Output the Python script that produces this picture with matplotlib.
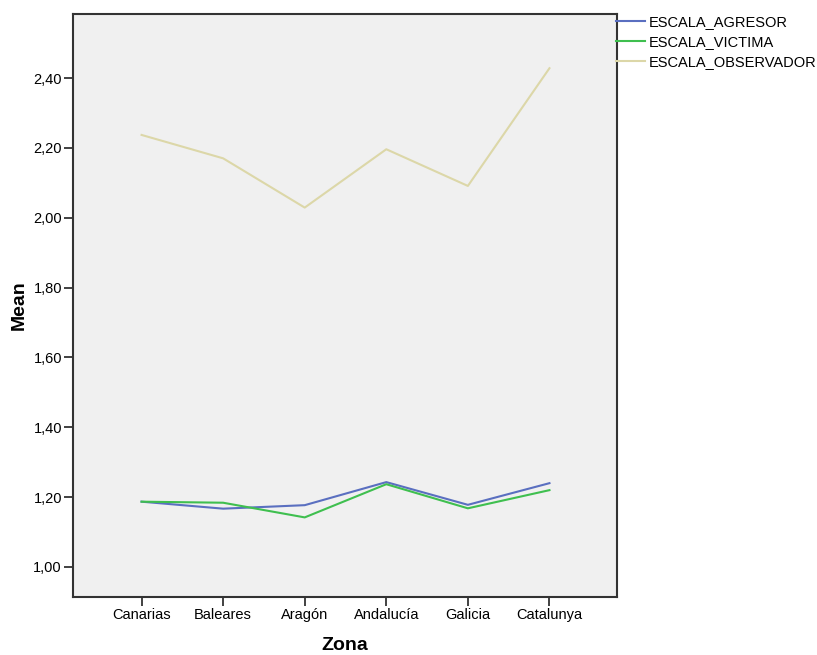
import matplotlib
matplotlib.use("Agg")
import matplotlib.pyplot as plt
from matplotlib.ticker import FuncFormatter

plt.rcParams['font.family'] = ['Liberation Sans', 'DejaVu Sans']

zonas = ["Canarias", "Baleares", "Aragón", "Andalucía", "Galicia", "Catalunya"]
agresor = [1.187, 1.167, 1.177, 1.243, 1.178, 1.240]
victima = [1.187, 1.184, 1.142, 1.237, 1.168, 1.220]
observador = [2.237, 2.170, 2.029, 2.196, 2.091, 2.428]
yticks = [1.0, 1.2, 1.4, 1.6, 1.8, 2.0, 2.2, 2.4]

fig = plt.figure(figsize=(8.17, 6.55), dpi=100)
ax = fig.add_axes([0.0894, 0.0885, 0.666, 0.890])
ax.set_facecolor('#f0f0f0')

x = range(len(zonas))
ax.plot(x, agresor, color='#5a6fc0', lw=1.5, label='ESCALA_AGRESOR')
ax.plot(x, victima, color='#3fbf4f', lw=1.5, label='ESCALA_VICTIMA')
ax.plot(x, observador, color='#dcd7a8', lw=1.5, label='ESCALA_OBSERVADOR')

ax.set_xlim(-0.84, 5.83)
ax.set_ylim(0.914, 2.583)
ax.set_xticks(list(x))
ax.set_xticklabels(zonas, fontsize=10.5)
ax.set_yticks(yticks)
ax.yaxis.set_major_formatter(FuncFormatter(lambda v, p: f"{v:.2f}".replace('.', ',')))
ax.tick_params(axis='y', labelsize=10.5)
ax.tick_params(direction='out', length=6.5, width=1.3, color='#333333', pad=1.5)

for s in ax.spines.values():
    s.set_color('#333333')
    s.set_linewidth(1.5)

ax.set_ylabel('Mean', fontsize=14, fontweight='bold', labelpad=4)
ax.set_xlabel('Zona', fontsize=14, fontweight='bold', labelpad=11)

fig.legend(loc='upper left', bbox_to_anchor=(0.754, 0.977), frameon=False,
           fontsize=10.5, handlelength=2.0, handletextpad=0.25, labelspacing=0.4,
           borderpad=0, borderaxespad=0)

fig.savefig('out.png', dpi=100)
